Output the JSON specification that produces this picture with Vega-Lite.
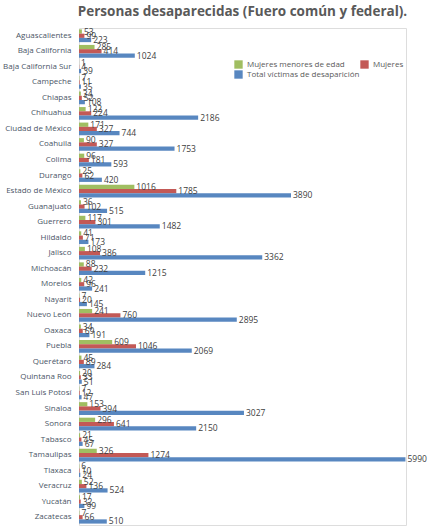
{
  "$schema": "https://vega.github.io/schema/vega-lite/v6.json",
  "autosize": "none",
  "width": 327,
  "height": 497,
  "padding": {"left": 79, "top": 28, "right": 24, "bottom": 3},
  "background": "white",
  "title": {
    "text": "Personas desaparecidas (Fuero común y federal).",
    "font": "Open Sans",
    "fontSize": 13.5,
    "fontWeight": "bold",
    "color": "#595959",
    "anchor": "middle",
    "offset": 9
  },
  "datasets": {
    "desaparecidas": [
      {"estado": "Aguascalientes", "serie": "Mujeres menores de edad", "valor": 53},
      {"estado": "Aguascalientes", "serie": "Mujeres", "valor": 99},
      {"estado": "Aguascalientes", "serie": "Total víctimas de desaparición", "valor": 223},
      {"estado": "Baja California", "serie": "Mujeres menores de edad", "valor": 285},
      {"estado": "Baja California", "serie": "Mujeres", "valor": 414},
      {"estado": "Baja California", "serie": "Total víctimas de desaparición", "valor": 1024},
      {"estado": "Baja California Sur", "serie": "Mujeres menores de edad", "valor": 1},
      {"estado": "Baja California Sur", "serie": "Mujeres", "valor": 4},
      {"estado": "Baja California Sur", "serie": "Total víctimas de desaparición", "valor": 39},
      {"estado": "Campeche", "serie": "Mujeres menores de edad", "valor": 7},
      {"estado": "Campeche", "serie": "Mujeres", "valor": 11},
      {"estado": "Campeche", "serie": "Total víctimas de desaparición", "valor": 35},
      {"estado": "Chiapas", "serie": "Mujeres menores de edad", "valor": 34},
      {"estado": "Chiapas", "serie": "Mujeres", "valor": 52},
      {"estado": "Chiapas", "serie": "Total víctimas de desaparición", "valor": 108},
      {"estado": "Chihuahua", "serie": "Mujeres menores de edad", "valor": 122},
      {"estado": "Chihuahua", "serie": "Mujeres", "valor": 224},
      {"estado": "Chihuahua", "serie": "Total víctimas de desaparición", "valor": 2186},
      {"estado": "Ciudad de México", "serie": "Mujeres menores de edad", "valor": 171},
      {"estado": "Ciudad de México", "serie": "Mujeres", "valor": 327},
      {"estado": "Ciudad de México", "serie": "Total víctimas de desaparición", "valor": 744},
      {"estado": "Coahuila", "serie": "Mujeres menores de edad", "valor": 90},
      {"estado": "Coahuila", "serie": "Mujeres", "valor": 327},
      {"estado": "Coahuila", "serie": "Total víctimas de desaparición", "valor": 1753},
      {"estado": "Colima", "serie": "Mujeres menores de edad", "valor": 96},
      {"estado": "Colima", "serie": "Mujeres", "valor": 181},
      {"estado": "Colima", "serie": "Total víctimas de desaparición", "valor": 593},
      {"estado": "Durango", "serie": "Mujeres menores de edad", "valor": 25},
      {"estado": "Durango", "serie": "Mujeres", "valor": 62},
      {"estado": "Durango", "serie": "Total víctimas de desaparición", "valor": 420},
      {"estado": "Estado de México", "serie": "Mujeres menores de edad", "valor": 1016},
      {"estado": "Estado de México", "serie": "Mujeres", "valor": 1785},
      {"estado": "Estado de México", "serie": "Total víctimas de desaparición", "valor": 3890},
      {"estado": "Guanajuato", "serie": "Mujeres menores de edad", "valor": 36},
      {"estado": "Guanajuato", "serie": "Mujeres", "valor": 102},
      {"estado": "Guanajuato", "serie": "Total víctimas de desaparición", "valor": 515},
      {"estado": "Guerrero", "serie": "Mujeres menores de edad", "valor": 117},
      {"estado": "Guerrero", "serie": "Mujeres", "valor": 301},
      {"estado": "Guerrero", "serie": "Total víctimas de desaparición", "valor": 1482},
      {"estado": "Hildaldo", "serie": "Mujeres menores de edad", "valor": 41},
      {"estado": "Hildaldo", "serie": "Mujeres", "valor": 71},
      {"estado": "Hildaldo", "serie": "Total víctimas de desaparición", "valor": 173},
      {"estado": "Jalisco", "serie": "Mujeres menores de edad", "valor": 108},
      {"estado": "Jalisco", "serie": "Mujeres", "valor": 386},
      {"estado": "Jalisco", "serie": "Total víctimas de desaparición", "valor": 3362},
      {"estado": "Michoacán", "serie": "Mujeres menores de edad", "valor": 88},
      {"estado": "Michoacán", "serie": "Mujeres", "valor": 232},
      {"estado": "Michoacán", "serie": "Total víctimas de desaparición", "valor": 1215},
      {"estado": "Morelos", "serie": "Mujeres menores de edad", "valor": 42},
      {"estado": "Morelos", "serie": "Mujeres", "valor": 96},
      {"estado": "Morelos", "serie": "Total víctimas de desaparición", "valor": 241},
      {"estado": "Nayarit", "serie": "Mujeres menores de edad", "valor": 7},
      {"estado": "Nayarit", "serie": "Mujeres", "valor": 20},
      {"estado": "Nayarit", "serie": "Total víctimas de desaparición", "valor": 145},
      {"estado": "Nuevo León", "serie": "Mujeres menores de edad", "valor": 241},
      {"estado": "Nuevo León", "serie": "Mujeres", "valor": 760},
      {"estado": "Nuevo León", "serie": "Total víctimas de desaparición", "valor": 2895},
      {"estado": "Oaxaca", "serie": "Mujeres menores de edad", "valor": 34},
      {"estado": "Oaxaca", "serie": "Mujeres", "valor": 69},
      {"estado": "Oaxaca", "serie": "Total víctimas de desaparición", "valor": 191},
      {"estado": "Puebla", "serie": "Mujeres menores de edad", "valor": 609},
      {"estado": "Puebla", "serie": "Mujeres", "valor": 1046},
      {"estado": "Puebla", "serie": "Total víctimas de desaparición", "valor": 2069},
      {"estado": "Querétaro", "serie": "Mujeres menores de edad", "valor": 45},
      {"estado": "Querétaro", "serie": "Mujeres", "valor": 89},
      {"estado": "Querétaro", "serie": "Total víctimas de desaparición", "valor": 284},
      {"estado": "Quintana Roo", "serie": "Mujeres menores de edad", "valor": 20},
      {"estado": "Quintana Roo", "serie": "Mujeres", "valor": 33},
      {"estado": "Quintana Roo", "serie": "Total víctimas de desaparición", "valor": 51},
      {"estado": "San Luis Potosí", "serie": "Mujeres menores de edad", "valor": 7},
      {"estado": "San Luis Potosí", "serie": "Mujeres", "valor": 12},
      {"estado": "San Luis Potosí", "serie": "Total víctimas de desaparición", "valor": 47},
      {"estado": "Sinaloa", "serie": "Mujeres menores de edad", "valor": 153},
      {"estado": "Sinaloa", "serie": "Mujeres", "valor": 394},
      {"estado": "Sinaloa", "serie": "Total víctimas de desaparición", "valor": 3027},
      {"estado": "Sonora", "serie": "Mujeres menores de edad", "valor": 296},
      {"estado": "Sonora", "serie": "Mujeres", "valor": 641},
      {"estado": "Sonora", "serie": "Total víctimas de desaparición", "valor": 2150},
      {"estado": "Tabasco", "serie": "Mujeres menores de edad", "valor": 21},
      {"estado": "Tabasco", "serie": "Mujeres", "valor": 45},
      {"estado": "Tabasco", "serie": "Total víctimas de desaparición", "valor": 67},
      {"estado": "Tamaulipas", "serie": "Mujeres menores de edad", "valor": 326},
      {"estado": "Tamaulipas", "serie": "Mujeres", "valor": 1274},
      {"estado": "Tamaulipas", "serie": "Total víctimas de desaparición", "valor": 5990},
      {"estado": "Tlaxaca", "serie": "Mujeres menores de edad", "valor": 6},
      {"estado": "Tlaxaca", "serie": "Mujeres", "valor": 10},
      {"estado": "Tlaxaca", "serie": "Total víctimas de desaparición", "valor": 24},
      {"estado": "Veracruz", "serie": "Mujeres menores de edad", "valor": 52},
      {"estado": "Veracruz", "serie": "Mujeres", "valor": 136},
      {"estado": "Veracruz", "serie": "Total víctimas de desaparición", "valor": 524},
      {"estado": "Yucatán", "serie": "Mujeres menores de edad", "valor": 17},
      {"estado": "Yucatán", "serie": "Mujeres", "valor": 32},
      {"estado": "Yucatán", "serie": "Total víctimas de desaparición", "valor": 99},
      {"estado": "Zacatecas", "serie": "Mujeres menores de edad", "valor": 7},
      {"estado": "Zacatecas", "serie": "Mujeres", "valor": 66},
      {"estado": "Zacatecas", "serie": "Total víctimas de desaparición", "valor": 510}
    ]
  },
  "data": {"name": "desaparecidas"},
  "encoding": {
    "y": {
      "field": "estado",
      "type": "nominal",
      "sort": null,
      "scale": {"paddingInner": 0.18, "paddingOuter": 0.09},
      "axis": {
        "title": null,
        "domain": false,
        "ticks": false,
        "labelFont": "Open Sans",
        "labelFontSize": 8,
        "labelColor": "#4a5566",
        "labelPadding": 8
      }
    },
    "yOffset": {
      "field": "serie",
      "type": "nominal",
      "sort": ["Mujeres menores de edad", "Mujeres", "Total víctimas de desaparición"]
    },
    "x": {
      "field": "valor",
      "type": "quantitative",
      "scale": {"domain": [0, 6000], "nice": false},
      "axis": null
    }
  },
  "layer": [
    {
      "mark": {"type": "bar", "opacity": 0.95},
      "encoding": {
        "color": {
          "field": "serie",
          "type": "nominal",
          "scale": {
            "domain": ["Mujeres menores de edad", "Total víctimas de desaparición", "Mujeres"],
            "range": ["#9bbb59", "#4f81bd", "#c0504d"]
          },
          "legend": {
            "title": null,
            "orient": "none",
            "legendX": 155,
            "legendY": 32,
            "columns": 2,
            "gridAlign": "none",
            "columnPadding": 0,
            "rowPadding": 1,
            "symbolType": "square",
            "symbolSize": 70,
            "symbolStrokeWidth": 0,
            "labelFont": "Open Sans",
            "labelFontSize": 8,
            "labelColor": "#595959"
          }
        }
      }
    },
    {
      "mark": {
        "type": "text",
        "align": "left",
        "baseline": "middle",
        "dx": 2,
        "font": "Open Sans",
        "fontSize": 8.5,
        "color": "#404040"
      },
      "encoding": {"text": {"field": "valor", "type": "quantitative"}}
    }
  ]
}
